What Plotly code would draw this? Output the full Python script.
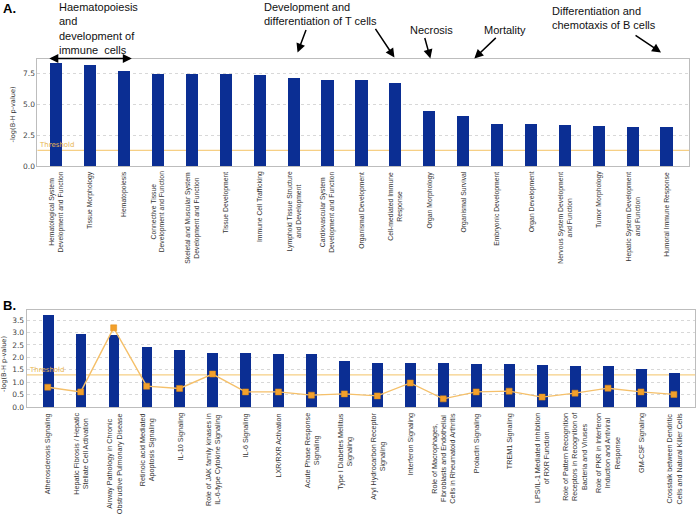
import plotly.graph_objects as go

W, H = 696, 520

# ---------------- Data ----------------
cats_a = [
    "Hematological System Development and Function", "Tissue Morphology", "Hematopoiesis",
    "Connective Tissue Development and Function", "Skeletal and Muscular System Development and Function",
    "Tissue Development", "Immune Cell Trafficking", "Lymphoid Tissue Structure and Development",
    "Cardiovascular System Development and Function", "Organismal Development",
    "Cell-mediated Immune Response", "Organ Morphology", "Organismal Survival",
    "Embryonic Development", "Organ Development", "Nervous System Development and Function",
    "Tumor Morphology", "Hepatic System Development and Function", "Humoral Immune Response",
]
labels_a = [
    "Hematological System<br>Development and Function", "Tissue Morphology", "Hematopoiesis",
    "Connective Tissue<br>Development and Function", "Skeletal and Muscular System<br>Development and Function",
    "Tissue Development", "Immune Cell Trafficking", "Lymphoid Tissue Structure<br>and Development",
    "Cardiovascular System<br>Development and Function", "Organismal Development",
    "Cell-mediated Immune<br>Response", "Organ Morphology", "Organismal Survival",
    "Embryonic Development", "Organ Development", "Nervous System Development<br>and Function",
    "Tumor Morphology", "Hepatic System Development<br>and Function", "Humoral Immune Response",
]
values_a = [8.3, 8.13, 7.65, 7.44, 7.44, 7.44, 7.36, 7.1, 6.96, 6.96, 6.7,
            4.43, 4.03, 3.41, 3.41, 3.33, 3.2, 3.18, 3.15]

cats_b = [
    "Atherosclerosis Signaling", "Hepatic Fibrosis / Hepatic Stellate Cell Activation",
    "Airway Pathology in Chronic Obstructive Pulmonary Disease",
    "Retinoic acid Mediated Apoptosis Signaling", "IL-10 Signaling",
    "Role of JAK family kinases in IL-6-type Cytokine Signaling", "IL-6 Signaling",
    "LXR/RXR Activation", "Acute Phase Response Signaling", "Type I Diabetes Mellitus Signaling",
    "Aryl Hydrocarbon Receptor Signaling", "Interferon Signaling",
    "Role of Macrophages, Fibroblasts and Endothelial Cells in Rheumatoid Arthritis",
    "Prolactin Signaling", "TREM1 Signaling", "LPS/IL-1 Mediated Inhibition of RXR Function",
    "Role of Pattern Recognition Receptors in Recognition of Bacteria and Viruses",
    "Role of PKR in Interferon Induction and Antiviral Response", "GM-CSF Signaling",
    "Crosstalk between Dendritic Cells and Natural Killer Cells",
]
labels_b = [
    "Atherosclerosis Signaling", "Hepatic Fibrosis / Hepatic<br>Stellate Cell Activation",
    "Airway Pathology in Chronic<br>Obstructive Pulmonary Disease",
    "Retinoic acid Mediated<br>Apoptosis Signaling", "IL-10 Signaling",
    "Role of JAK family kinases in<br>IL-6-type Cytokine Signaling", "IL-6 Signaling",
    "LXR/RXR Activation", "Acute Phase Response<br>Signaling", "Type I Diabetes Mellitus<br>Signaling",
    "Aryl Hydrocarbon Receptor<br>Signaling", "Interferon Signaling",
    "Role of Macrophages,<br>Fibroblasts and Endothelial<br>Cells in Rheumatoid Arthritis",
    "Prolactin Signaling", "TREM1 Signaling", "LPS/IL-1 Mediated Inhibition<br>of RXR Function",
    "Role of Pattern Recognition<br>Receptors in Recognition of<br>Bacteria and Viruses",
    "Role of PKR in Interferon<br>Induction and Antiviral<br>Response", "GM-CSF Signaling",
    "Crosstalk between Dendritic<br>Cells and Natural Killer Cells",
]
values_b = [3.72, 2.93, 2.91, 2.42, 2.29, 2.16, 2.16, 2.14, 2.13, 1.84,
            1.78, 1.78, 1.78, 1.74, 1.74, 1.68, 1.66, 1.64, 1.53, 1.37]
ratio_b = [0.8, 0.61, 3.19, 0.84, 0.75, 1.33, 0.61, 0.61, 0.48, 0.53,
           0.45, 0.97, 0.33, 0.61, 0.64, 0.40, 0.56, 0.76, 0.61, 0.51]

threshold = 1.3
ticks_a = [0, 2.5, 5, 7.5]
ticks_b = [0, 0.5, 1, 1.5, 2, 2.5, 3, 3.5]

# ---------------- Styles ----------------
BAR = "#0b2e93"
THR = "#f6cf85"
RATIO_LINE = "#f5c06a"
RATIO_MARK = "#f2a02c"
GRID = "#d8d8d8"
BOX = "#bdbdbd"


def px_x(x):
    return x / W


def px_y(y):
    return 1 - y / H


fig = go.Figure()
fig.add_trace(go.Bar(x=cats_a, y=values_a, marker=dict(color=BAR, line=dict(width=0)),
                     width=0.36, xaxis="x", yaxis="y", showlegend=False))
fig.add_trace(go.Bar(x=cats_b, y=values_b, marker=dict(color=BAR, line=dict(width=0)),
                     width=0.33, xaxis="x2", yaxis="y2", showlegend=False))
fig.add_trace(go.Scatter(x=cats_b, y=ratio_b, mode="lines+markers",
                         line=dict(color=RATIO_LINE, width=1.4),
                         marker=dict(symbol="square", size=6, color=RATIO_MARK,
                                     line=dict(color="#e08a10", width=0.5)),
                         xaxis="x2", yaxis="y2", showlegend=False))

axis_common = dict(showline=True, mirror=True, linecolor=BOX, linewidth=1,
                   ticks="", zeroline=False)
tickfont = dict(family="DejaVu Sans", size=7.5, color="#444444")

fig.update_layout(
    width=W, height=H, margin=dict(l=0, r=0, t=0, b=0),
    plot_bgcolor="white", paper_bgcolor="white", bargap=0,
    xaxis=dict(domain=[px_x(37.5), px_x(690)], range=[-0.57, 18.65], type="category",
               showticklabels=False, showgrid=False, anchor="y", **axis_common),
    yaxis=dict(domain=[px_y(168), px_y(60)], range=[0, 8.64], tickvals=ticks_a,
               tickformat=".1f", showgrid=True, gridcolor=GRID, griddash="dot",
               tickfont=tickfont, anchor="x", **axis_common),
    xaxis2=dict(domain=[px_x(26.7), 1.0], range=[-0.64, 19.64], type="category",
                showticklabels=False, showgrid=False, anchor="y2", **axis_common),
    yaxis2=dict(domain=[px_y(411), px_y(313)], range=[0, 3.91], tickvals=ticks_b,
                tickformat=".1f", showgrid=True, gridcolor=GRID, griddash="dot",
                tickfont=tickfont, anchor="x2", **axis_common),
)

annos = []

# Threshold lines
for xr, yr in (("x domain", "y"), ("x2 domain", "y2")):
    fig.add_shape(type="line", xref=xr, yref=yr, x0=0, x1=1, y0=threshold, y1=threshold,
                  line=dict(color=THR, width=1.2), layer="below")
    annos.append(dict(xref=xr, yref=yr, x=0, y=threshold, text="Threshold",
                      showarrow=False, xanchor="left", yanchor="bottom", yshift=-1,
                      font=dict(family="DejaVu Sans", size=7, color="#e8b550")))

# Category labels (rotated, centered lines)
for lab, cat in zip(labels_a, cats_a):
    annos.append(dict(x=cat, xref="x", y=px_y(171), yref="paper", text=lab,
                      textangle=-90, showarrow=False, xanchor="center", yanchor="top",
                      align="center", font=dict(family="Liberation Sans", size=6.8, color="#333333")))
for lab, cat in zip(labels_b, cats_b):
    annos.append(dict(x=cat, xref="x2", y=px_y(415), yref="paper", text=lab,
                      textangle=-90, showarrow=False, xanchor="center", yanchor="top",
                      align="center", font=dict(family="Liberation Sans", size=7.2, color="#333333")))

# Axis titles
annos.append(dict(x=px_x(12.5), y=px_y(115), xref="paper", yref="paper", text="-log(B-H p-value)",
                  textangle=-90, showarrow=False, xanchor="center", yanchor="middle",
                  font=dict(family="DejaVu Sans", size=6.6, color="#333")))
annos.append(dict(x=px_x(4.5), y=px_y(367), xref="paper", yref="paper", text="-log(B-H p-value)",
                  textangle=-90, showarrow=False, xanchor="center", yanchor="middle",
                  font=dict(family="DejaVu Sans", size=6.6, color="#333")))

# Panel letters
annos.append(dict(x=px_x(1), y=px_y(9), xref="paper", yref="paper", text="<b>A.</b>",
                  showarrow=False, xanchor="left", yanchor="middle",
                  font=dict(family="Liberation Sans", size=13, color="black")))
annos.append(dict(x=px_x(1), y=px_y(308), xref="paper", yref="paper", text="<b>B.</b>",
                  showarrow=False, xanchor="left", yanchor="middle",
                  font=dict(family="Liberation Sans", size=13, color="black")))

note_font = dict(family="Liberation Sans", size=11, color="#111111")
annos.append(dict(x=px_x(57), y=px_y(-1), xref="paper", yref="paper",
                  text="Haematopoiesis<br>and<br>development of<br>immune  cells",
                  showarrow=False, xanchor="left", yanchor="top", align="left", font=note_font))
annos.append(dict(x=px_x(262), y=px_y(-1), xref="paper", yref="paper",
                  text="Development and<br>differentiation of T cells",
                  showarrow=False, xanchor="left", yanchor="top", align="left", font=note_font))
annos.append(dict(x=px_x(409), y=px_y(22), xref="paper", yref="paper", text="Necrosis",
                  showarrow=False, xanchor="left", yanchor="top", font=note_font))
annos.append(dict(x=px_x(483), y=px_y(22), xref="paper", yref="paper", text="Mortality",
                  showarrow=False, xanchor="left", yanchor="top", font=note_font))
annos.append(dict(x=px_x(551), y=px_y(3), xref="paper", yref="paper",
                  text="Differentiation and<br>chemotaxis of B cells",
                  showarrow=False, xanchor="left", yanchor="top", align="left", font=note_font))

# Arrows (head x,y ; tail x,y) in pixels
arrows = [
    ((298, 53), (307, 29)),
    ((395, 58), (375, 28)),
    ((431, 59), (425, 37)),
    ((475, 59), (498, 37)),
    ((662, 53), (635, 35)),
]
for (hx, hy), (tx, ty) in arrows:
    annos.append(dict(x=px_x(hx), y=px_y(hy), ax=tx - hx, ay=ty - hy, xref="paper", yref="paper",
                      axref="pixel", ayref="pixel", text="", showarrow=True, arrowhead=2,
                      arrowsize=1.2, arrowwidth=1.5, arrowcolor="black"))
annos.append(dict(x=px_x(132), y=px_y(59), ax=48 - 132, ay=0, xref="paper", yref="paper",
                  axref="pixel", ayref="pixel", text="", showarrow=True, arrowhead=2,
                  startarrowhead=2, arrowside="end+start", arrowsize=1.2, startarrowsize=1.2,
                  arrowwidth=1.5, arrowcolor="black"))

fig.update_layout(annotations=annos)
fig.write_html("out.html", config={"displayModeBar": False},
               post_script="document.body.style.margin='0';document.body.style.overflow='hidden';")
